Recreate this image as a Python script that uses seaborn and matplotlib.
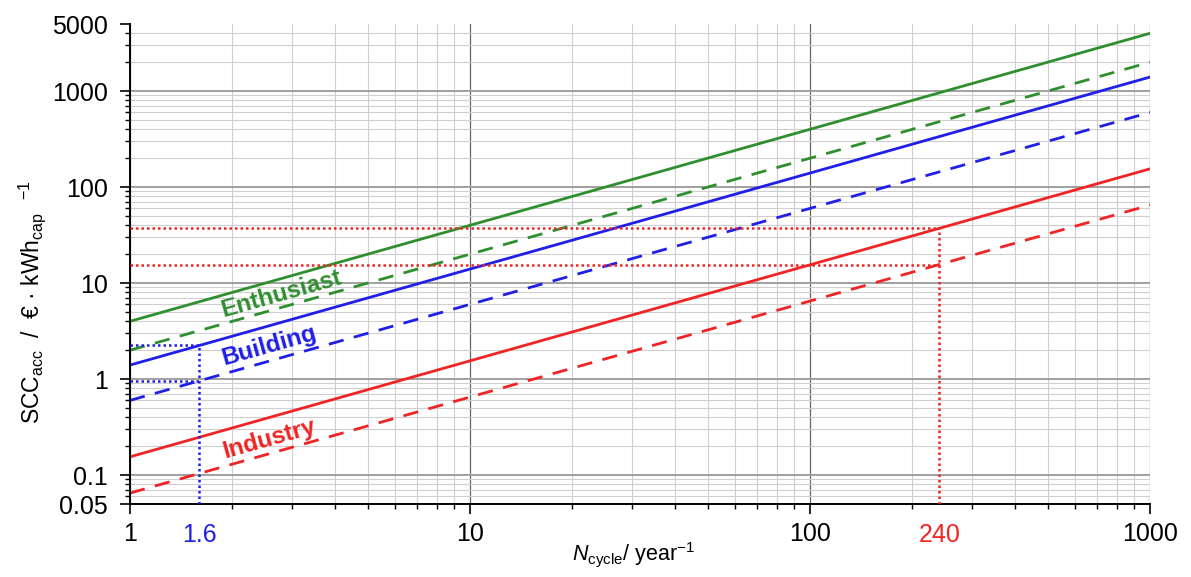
import numpy as np
import pandas as pd
import matplotlib
matplotlib.use("Agg")
import matplotlib.pyplot as plt
import seaborn as sns

# Specific cost of capacity vs. annual cycle count (log-log)
n_cycle = [1, 10, 100, 1000]
enthusiast_high = [4.0, 40, 400, 4000]
enthusiast_low = [2.0, 20, 200, 2000]
building_high = [1.4, 14, 140, 1400]
building_low = [0.6, 6, 60, 600]
industry_high = [0.155, 1.55, 15.5, 155]
industry_low = [0.065, 0.65, 6.5, 65]

sectors = ["Enthusiast", "Building", "Industry"]
sector_colors = {"Enthusiast": "#2f8f2f", "Building": "#1f1fe8", "Industry": "#f02424"}

# Reference readings marked with dotted guides
blue_mark_n = 1.6
blue_mark_levels = [2.25, 0.96]
red_mark_n = 240
red_mark_levels = [37.2, 15.6]

x_major = [1, 10, 100, 1000]
x_major_labels = ["1", "10", "100", "1000"]
y_major = [0.05, 0.1, 1, 10, 100, 1000, 5000]
y_major_labels = ["0.05", "0.1", "1", "10", "100", "1000", "5000"]

# Label anchors (data coordinates)
label_pos = {"Enthusiast": (2.78, 7.7), "Building": (2.56, 2.2), "Industry": (2.56, 0.24)}

series = {
    ("Enthusiast", "high"): enthusiast_high,
    ("Enthusiast", "low"): enthusiast_low,
    ("Building", "high"): building_high,
    ("Building", "low"): building_low,
    ("Industry", "high"): industry_high,
    ("Industry", "low"): industry_low,
}
df = pd.concat(
    [pd.DataFrame({"n": n_cycle, "scc": vals, "sector": s, "case": c})
     for (s, c), vals in series.items()],
    ignore_index=True,
)

sns.set_style("white")
plt.rcParams["font.family"] = ["Liberation Sans", "DejaVu Sans"]
plt.rcParams["mathtext.fontset"] = "custom"
plt.rcParams["mathtext.rm"] = "Liberation Sans"
plt.rcParams["mathtext.it"] = "Liberation Sans:italic"
plt.rcParams["mathtext.bf"] = "Liberation Sans:bold"
plt.rcParams["text.color"] = "black"
plt.rcParams["axes.labelcolor"] = "black"
plt.rcParams["xtick.color"] = "black"
plt.rcParams["ytick.color"] = "black"

fig = plt.figure(figsize=(11.91, 5.77), dpi=100)
ax = fig.add_axes([130 / 1191, 1 - 504 / 577, 1020 / 1191, 480 / 577])
ax.set_xscale("log")
ax.set_yscale("log")

sns.lineplot(
    data=df, x="n", y="scc", hue="sector", style="case",
    palette=sector_colors, hue_order=sectors,
    dashes={"high": "", "low": (5.5, 3.8)},
    linewidth=2.0, legend=False, ax=ax,
)

dot = (0, (1, 1.2))
dot_lw = 1.8
# blue guides
for lvl in blue_mark_levels:
    ax.plot([1, blue_mark_n], [lvl, lvl], color=sector_colors["Building"],
            lw=dot_lw, ls=dot, zorder=3)
ax.plot([blue_mark_n, blue_mark_n], [y_major[0], blue_mark_levels[0]],
        color=sector_colors["Building"], lw=dot_lw, ls=dot, zorder=3)
# red guides
for lvl in red_mark_levels:
    ax.plot([1, red_mark_n], [lvl, lvl], color=sector_colors["Industry"],
            lw=dot_lw, ls=dot, zorder=3)
ax.plot([red_mark_n, red_mark_n], [y_major[0], red_mark_levels[0]],
        color=sector_colors["Industry"], lw=dot_lw, ls=dot, zorder=3)

ax.set_xlim(x_major[0], x_major[-1])
ax.set_ylim(y_major[0], y_major[-1])

ax.set_xticks(x_major)
ax.set_xticklabels(x_major_labels)
ax.set_yticks(y_major)
ax.set_yticklabels(y_major_labels)
ax.xaxis.set_minor_locator(matplotlib.ticker.LogLocator(base=10, subs=np.arange(2, 10)))
ax.yaxis.set_minor_locator(matplotlib.ticker.LogLocator(base=10, subs=np.arange(2, 10), numticks=20))
ax.xaxis.set_minor_formatter(matplotlib.ticker.NullFormatter())
ax.yaxis.set_minor_formatter(matplotlib.ticker.NullFormatter())

ax.tick_params(which="major", direction="out", length=7, width=1.2,
               labelsize=18, color="black", labelcolor="black",
               left=True, bottom=True)
ax.tick_params(axis="y", which="major", pad=9)
ax.tick_params(axis="x", which="major", pad=6)
ax.tick_params(which="minor", direction="out", length=3.6, width=1.0,
               color="black", left=True, bottom=True)

ax.grid(which="minor", color="#cfcfcf", lw=0.8)
ax.grid(which="major", axis="y", color="#a0a0a0", lw=1.4)
ax.grid(which="major", axis="x", color="#666666", lw=0.9)
ax.set_axisbelow(True)
for gl, loc in zip(ax.yaxis.get_gridlines(), y_major):
    if loc in (y_major[0], y_major[-1]):
        gl.set_visible(False)

for side in ("top", "right"):
    ax.spines[side].set_visible(False)
for side in ("left", "bottom"):
    ax.spines[side].set_color("black")
    ax.spines[side].set_linewidth(1.4)

# highlighted cycle counts beneath the axis
ax.text(blue_mark_n, -0.04, "1.6", transform=ax.get_xaxis_transform(),
        ha="center", va="top", fontsize=18, color=sector_colors["Building"])
ax.text(red_mark_n, -0.04, "240", transform=ax.get_xaxis_transform(),
        ha="center", va="top", fontsize=18, color=sector_colors["Industry"])

for name in sectors:
    x, y = label_pos[name]
    ax.text(x, y, name, color=sector_colors[name], fontsize=17.5,
            fontweight="bold", rotation=15.7, ha="center", va="center",
            rotation_mode="anchor")

ax.set_xlabel(r"$N_{\mathregular{cycle}}$/ year$^{\mathregular{-1}}$", fontsize=15.5)
ax.set_ylabel(r"SCC$_{\mathregular{acc}}$  /  € · kWh$_{\mathregular{cap}}$  $^{\mathregular{-1}}$",
              fontsize=16.5)
ax.xaxis.set_label_coords(0.494, -0.075)
ax.yaxis.set_label_coords(-0.08, 0.42)

fig.savefig("out.png", dpi=100)
